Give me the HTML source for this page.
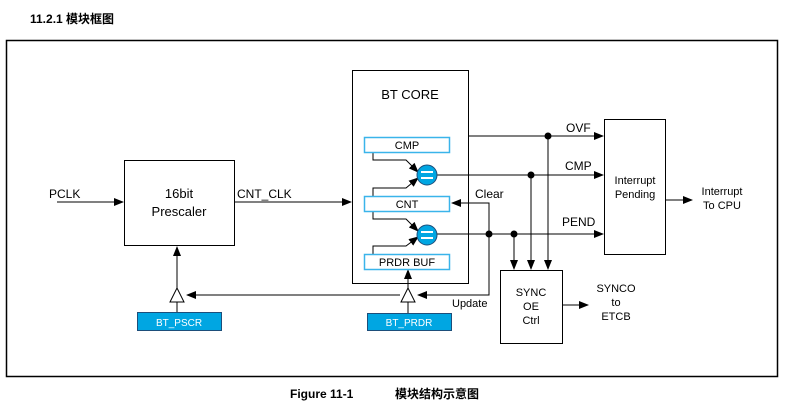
<!DOCTYPE html>
<html><head><meta charset="utf-8"><style>
body{margin:0;background:#fff;width:788px;height:402px;overflow:hidden;font-family:"Liberation Sans","Noto Sans CJK SC",sans-serif}
svg text{font-family:"Liberation Sans","Noto Sans CJK SC",sans-serif;fill:#000}
</style></head><body>
<svg width="788" height="402" viewBox="0 0 788 402" xmlns="http://www.w3.org/2000/svg">
<defs><marker id="a" markerWidth="10" markerHeight="8" refX="9" refY="4" orient="auto" markerUnits="userSpaceOnUse"><path d="M0,0 L10,4 L0,8z" fill="#000"/></marker></defs>
<text x="30" y="23" font-size="12" font-weight="bold">11.2.1 模块框图</text>
<rect x="6.5" y="40.5" width="771" height="336" fill="none" stroke="#000" stroke-width="1.5"/>
<g stroke="#000" stroke-width="1" fill="none">
<rect x="124.5" y="160.5" width="110" height="85"/>
<rect x="352.5" y="70.5" width="116" height="213"/>
<rect x="604.5" y="119.5" width="61" height="135"/>
<rect x="500.5" y="270.5" width="62" height="73"/>
<line x1="57" y1="202" x2="123" y2="202" marker-end="url(#a)"/>
<line x1="235" y1="202" x2="351" y2="202" marker-end="url(#a)"/>
<line x1="468" y1="136" x2="603" y2="136" marker-end="url(#a)"/>
<line x1="437" y1="175" x2="603" y2="175" marker-end="url(#a)"/>
<line x1="437" y1="234" x2="603" y2="234" marker-end="url(#a)"/>
<line x1="548" y1="136" x2="548" y2="269" marker-end="url(#a)"/>
<line x1="531" y1="175" x2="531" y2="269" marker-end="url(#a)"/>
<line x1="514" y1="234" x2="514" y2="269" marker-end="url(#a)"/>
<polyline points="489,234 489,203 452,203" marker-end="url(#a)"/>
<polyline points="489,234 489,295 418,295" marker-end="url(#a)"/>
<line x1="400" y1="295" x2="187" y2="295" marker-end="url(#a)"/>
<line x1="177" y1="288" x2="177" y2="247" marker-end="url(#a)"/>
<line x1="408" y1="288" x2="408" y2="270" marker-end="url(#a)"/>
<line x1="177" y1="302" x2="177" y2="312"/>
<line x1="408" y1="302" x2="408" y2="313"/>
<line x1="665" y1="200" x2="692" y2="200" marker-end="url(#a)"/>
<line x1="562" y1="305" x2="588" y2="305" marker-end="url(#a)"/>
<polyline points="373,152 373,160 406,160 418,172" marker-end="url(#a)"/>
<polyline points="373,196 373,188 406,188 418,178" marker-end="url(#a)"/>
<polyline points="373,211 373,219 406,219 418,231" marker-end="url(#a)"/>
<polyline points="373,254 373,246 406,246 418,237" marker-end="url(#a)"/>
</g>
<g fill="#fff" stroke="#000"><path d="M170,302 L177,288 L184,302z"/><path d="M401,302 L408,288 L415,302z"/></g>
<g fill="#fff" stroke="#3ab4ea" stroke-width="1.5">
<rect x="364.5" y="137.5" width="85" height="15"/><rect x="364.5" y="196.5" width="85" height="15"/><rect x="364.5" y="254.5" width="85" height="15"/></g>
<g fill="#00a6e2" stroke="#1d4e7a"><circle cx="427" cy="175" r="10"/><circle cx="427" cy="235" r="10"/>
<rect x="137.5" y="312.5" width="84" height="18"/><rect x="367.5" y="313.5" width="84" height="17"/></g>
<g stroke="#fff" stroke-width="2"><line x1="421" y1="172" x2="433" y2="172"/><line x1="421" y1="178" x2="433" y2="178"/><line x1="421" y1="232" x2="433" y2="232"/><line x1="421" y1="238" x2="433" y2="238"/></g>
<g fill="#000"><circle cx="548" cy="136" r="3.5"/><circle cx="531" cy="175" r="3.5"/><circle cx="489" cy="234" r="3.5"/><circle cx="514" cy="234" r="3.5"/></g>
<g font-size="12">
<text x="49" y="198">PCLK</text>
<text x="179" y="198" text-anchor="middle" font-size="13">16bit</text>
<text x="179" y="216" text-anchor="middle" font-size="13">Prescaler</text>
<text x="237" y="198">CNT_CLK</text>
<text x="410" y="99" text-anchor="middle" font-size="13">BT CORE</text>
<text x="407" y="149" text-anchor="middle" font-size="11">CMP</text>
<text x="407" y="208" text-anchor="middle" font-size="11">CNT</text>
<text x="407" y="266" text-anchor="middle" font-size="11">PRDR BUF</text>
<text x="475" y="198">Clear</text>
<text x="452" y="307" font-size="11">Update</text>
<text x="566" y="132">OVF</text>
<text x="565" y="170">CMP</text>
<text x="562" y="226">PEND</text>
<text x="635" y="184" text-anchor="middle" font-size="11">Interrupt</text>
<text x="635" y="198" text-anchor="middle" font-size="11">Pending</text>
<text x="722" y="195" text-anchor="middle" font-size="11">Interrupt</text>
<text x="722" y="209" text-anchor="middle" font-size="11">To CPU</text>
<text x="531" y="296" text-anchor="middle" font-size="11">SYNC</text>
<text x="531" y="310" text-anchor="middle" font-size="11">OE</text>
<text x="531" y="324" text-anchor="middle" font-size="11">Ctrl</text>
<text x="616" y="292" text-anchor="middle" font-size="11">SYNCO</text>
<text x="616" y="306" text-anchor="middle" font-size="11">to</text>
<text x="616" y="320" text-anchor="middle" font-size="11">ETCB</text>
<text x="179" y="326" text-anchor="middle" font-size="10" style="fill:#fff">BT_PSCR</text>
<text x="409" y="326" text-anchor="middle" font-size="10" style="fill:#fff">BT_PRDR</text>
<text x="290" y="398" font-weight="bold" font-size="12">Figure 11-1</text>
<text x="395" y="398" font-weight="bold" font-size="12">模块结构示意图</text>
</g>
</svg>
</body></html>
